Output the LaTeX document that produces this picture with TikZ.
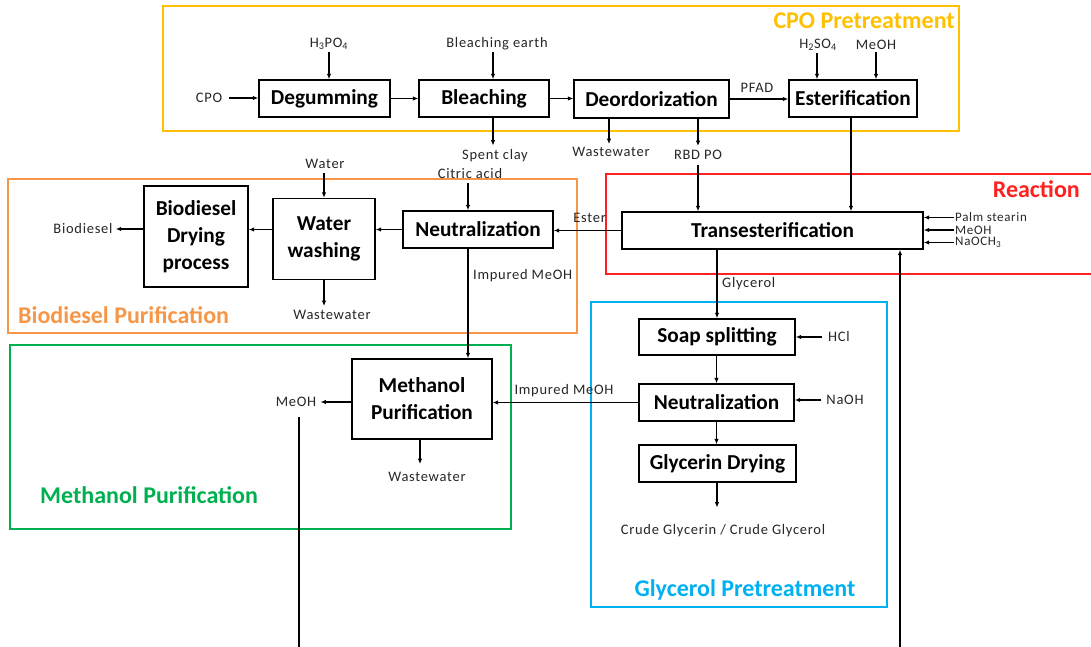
\documentclass[tikz,border=0pt]{standalone}
\usepackage{fontspec}
\setmainfont{Carlito}
\newfontfamily\lblfont[LetterSpace=5]{Carlito}
\usetikzlibrary{arrows.meta}

\definecolor{cpoC}{HTML}{FFC000}
\definecolor{bioC}{HTML}{F79646}
\definecolor{reaC}{HTML}{FF2020}
\definecolor{metC}{HTML}{00B050}
\definecolor{glyC}{HTML}{00B0F0}
\definecolor{txtC}{HTML}{262626}

\tikzset{
  proc/.style={draw, line width=1.4pt, align=center, inner sep=0pt, text=black,
    font=\bfseries\fontsize{21.3}{27}\selectfont},
  lbl/.style={inner sep=0pt, text=txtC, font=\lblfont\fontsize{14.5}{17}\selectfont},
  feedlbl/.style={lbl, anchor=west, font=\lblfont\fontsize{13}{15}\selectfont},
  ttl/.style={inner sep=0pt, font=\bfseries\fontsize{24}{28}\selectfont},
  region/.style={line width=1.3pt},
  flow/.style={-{Latex[length=5.5pt,width=4.5pt]}, line width=1.2pt}
}

\begin{document}
\begin{tikzpicture}[x=1pt,y=-1pt]
\useasboundingbox (0,0) rectangle (1091,647);
\clip (0,0) rectangle (1091,647);

% ---- section frames ----
\draw[region, cpoC] (163,6) rectangle (959,131);
\draw[region, reaC] (606,174) rectangle (1100,274);
\draw[region, bioC] (8,179) rectangle (577,333);
\draw[region, metC] (10,345) rectangle (511,529);
\draw[region, glyC] (591,302) rectangle (887,607);

\node[ttl, text=cpoC, anchor=east] (tcpo) at (955,21) {CPO Pretreatment};
\node[ttl, text=reaC, anchor=east] (trea) at (1080,189) {Reaction};
\node[ttl, text=bioC, anchor=west] (tbio) at (18,315) {Biodiesel Purification};
\node[ttl, text=metC, anchor=west] (tmet) at (40,495) {Methanol Purification};
\node[ttl, text=glyC] (tgly) at (745,590) {Glycerol Pretreatment};

% ---- process units ----
\node[proc, minimum width=131pt, minimum height=37pt] (degum) at (324.5,98.5) {Degumming};
\node[proc, minimum width=130pt, minimum height=37pt] (bleach) at (484,98.5) {Bleaching};
\node[proc, minimum width=155pt, minimum height=38pt] (deodor) at (651.5,99) {Deordorization};
\node[proc, minimum width=128pt, minimum height=37pt] (ester) at (853,98.5) {Esterification};
\node[proc, minimum width=301pt, minimum height=37pt] (trans) at (772.5,230.5) {Transesterification};
\node[proc, minimum width=150pt, minimum height=37pt] (neut1) at (478,229.5) {Neutralization};
\node[proc, minimum width=102pt, minimum height=81pt] (wash) at (324,239) {Water\\washing};
\node[proc, minimum width=104pt, minimum height=101pt] (dry) at (196,236.5) {Biodiesel\\Drying\\process};
\node[proc, minimum width=140pt, minimum height=80pt] (mpur) at (422,399) {Methanol\\Purification};
\node[proc, minimum width=156pt, minimum height=36pt] (soap) at (717,337) {Soap splitting};
\node[proc, minimum width=155pt, minimum height=37pt] (neut2) at (716.5,402.5) {Neutralization};
\node[proc, minimum width=157pt, minimum height=37pt] (gdry) at (717.5,463.5) {Glycerin Drying};

% ---- stream labels ----
\node[lbl] (cpo) at (209,98) {CPO};
\node[lbl] (h3po4) at (329,44) {H\textsubscript{3}PO\textsubscript{4}};
\node[lbl] (bearth) at (497,44) {Bleaching earth};
\node[lbl] (spent) at (495,156) {Spent clay};
\node[lbl] (ww1) at (611,152) {Wastewater};
\node[lbl] (rbd) at (698,155) {RBD PO};
\node[lbl] (pfad) at (757,88) {PFAD};
\node[lbl] (h2so4) at (818,45) {H\textsubscript{2}SO\textsubscript{4}};
\node[lbl] (meoh1) at (876,45) {MeOH};
\node[feedlbl] (palm) at (955,217.5) {Palm stearin};
\node[feedlbl] (meoh3) at (955,230) {MeOH};
\node[feedlbl] (naoch) at (955,242.5) {NaOCH\textsubscript{3}};
\node[lbl, anchor=east] (esterl) at (606,218) {Ester};
\node[lbl, anchor=west] (glyl) at (722,284) {Glycerol};
\node[lbl] (water) at (325,164) {Water};
\node[lbl] (citric) at (470,174) {Citric acid};
\node[lbl, anchor=west] (imp1) at (473,276) {Impured MeOH};
\node[lbl] (ww2) at (332,315) {Wastewater};
\node[lbl] (biod) at (83,229) {Biodiesel};
\node[lbl] (meoh2) at (296,402) {MeOH};
\node[lbl] (ww3) at (427,477) {Wastewater};
\node[lbl] (imp2) at (564,391) {Impured MeOH};
\node[lbl] (hcl) at (839,337) {HCl};
\node[lbl] (naoh) at (845,400) {NaOH};
\node[lbl] (crude) at (723,531) {Crude Glycerin / Crude Glycerol};

% ---- CPO pretreatment line ----
\draw[flow, shorten <=7pt] (cpo.east) -- (cpo.east -| degum.west);
\draw[flow, shorten <=2pt] (h3po4.south) -- (h3po4.south |- degum.north);
\draw[flow] (degum.east) -- (degum.east -| bleach.west);
\draw[flow, shorten <=2pt] ([xshift=-4pt]bearth.south) -- ([xshift=-4pt]bearth.south |- bleach.north);
\draw[flow] (bleach.east) -- (bleach.east -| deodor.west);
\draw[flow, shorten >=4pt] ([xshift=-2pt]spent.north |- bleach.south) -- ([xshift=-2pt]spent.north);
\draw[flow] (deodor.east) -- (deodor.east -| ester.west);
\draw[flow, shorten >=3pt] ([xshift=-2pt]ww1.north |- deodor.south) -- ([xshift=-2pt]ww1.north);
\draw[flow, shorten >=4pt] (rbd.north |- deodor.south) -- (rbd.north);
\draw[flow, shorten <=2pt] ([xshift=-1pt]h2so4.south) -- ([xshift=-1pt]h2so4.south |- ester.north);
\draw[flow, shorten <=2pt] (meoh1.south) -- (meoh1.south |- ester.north);

% ---- reaction ----
\draw[flow, shorten <=5pt] (rbd.south) -- (rbd.south |- trans.north);
\draw[flow] ([xshift=-2pt]ester.south) -- ([xshift=-2pt]ester.south |- trans.north);
\draw[flow, shorten <=1pt] (palm.west) -- (palm.west -| trans.east);
\draw[flow, shorten <=1pt] (meoh3.west) -- (meoh3.west -| trans.east);
\draw[flow, shorten <=1pt] (naoch.west) -- (naoch.west -| trans.east);
\draw[flow] (trans.west) -- (trans.west -| neut1.east);

% ---- biodiesel purification ----
\draw[flow, shorten <=4pt] ([xshift=-2pt]citric.south) -- ([xshift=-2pt]citric.south |- neut1.north);
\draw[flow, shorten <=4pt] ([xshift=-1pt]water.south) -- ([xshift=-1pt]water.south |- wash.north);
\draw[flow] (neut1.west) -- (neut1.west -| wash.east);
\draw[flow] (wash.west |- neut1.west) -- (dry.east |- neut1.west);
\draw[flow, shorten >=3pt] (dry.west |- biod.east) -- (biod.east);
\draw[flow, shorten >=4pt] (wash.south) -- (wash.south |- ww2.north);
\draw[flow] ([xshift=-10pt]neut1.south) -- ([xshift=-10pt]neut1.south |- mpur.north);

% ---- glycerol pretreatment ----
\draw[flow] (soap.north |- trans.south) -- (soap.north);
\draw[flow, shorten <=6pt] (hcl.west) -- (hcl.west -| soap.east);
\draw[flow, shorten <=5pt] (naoh.west) -- (naoh.west -| neut2.east);
\draw[flow] ([xshift=-0.5pt]soap.south) -- ([xshift=-0.5pt]soap.south |- neut2.north);
\draw[flow] (neut2.south) -- (neut2.south |- gdry.north);
\draw[flow, shorten >=17pt] ([xshift=-0.5pt]gdry.south) -- ([xshift=-0.5pt]gdry.south |- crude.north);

% ---- methanol recovery and recycle ----
\draw[flow] (neut2.west) -- (neut2.west -| mpur.east);
\draw[flow, shorten >=4pt] (mpur.west |- meoh2.east) -- (meoh2.east);
\draw[flow, shorten >=8pt] ([xshift=-2pt]mpur.south) -- ([xshift=-2pt]mpur.south |- ww3.north);
\coordinate (loopL) at (299,647.3);
\coordinate (loopR) at (900,647.3);
\draw[flow, shorten <=10pt] (meoh2.south -| loopL) -- (loopL) -- (loopR) -- (loopR |- trans.south);
\end{tikzpicture}
\end{document}
